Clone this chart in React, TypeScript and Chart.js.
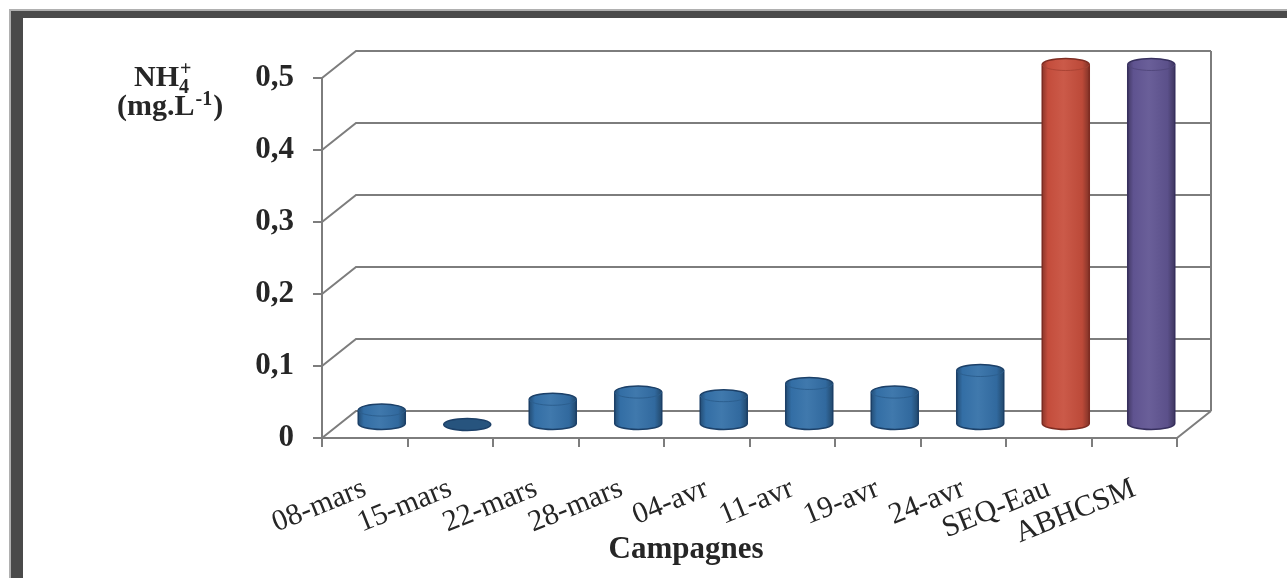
import React, { useEffect, useRef } from "react";
import { Chart, registerables } from "chart.js";

Chart.register(...registerables);

const categories = ["08-mars", "15-mars", "22-mars", "28-mars", "04-avr", "11-avr", "19-avr", "24-avr", "SEQ-Eau", "ABHCSM"];
const values = [0.02, 0.0, 0.035, 0.045, 0.04, 0.057, 0.045, 0.075, 0.5, 0.5];
const yTicks = [0, 0.1, 0.2, 0.3, 0.4, 0.5];
const barColors = ["#3470a8", "#3470a8", "#3470a8", "#3470a8", "#3470a8", "#3470a8", "#3470a8", "#3470a8", "#c84f3d", "#615593"];
const barEdges = ["#1c4068", "#1c4068", "#1c4068", "#1c4068", "#1c4068", "#1c4068", "#1c4068", "#1c4068", "#7e2c22", "#37305e"];
const xTitle = "Campagnes";

const DX = 34;
const DY = -27;
const RY = 6;
const SERIF = "'Liberation Serif', 'Times New Roman', serif";

function shade(hex: string, f: number) {
  const n = parseInt(hex.slice(1), 16);
  let r = (n >> 16) & 255, g = (n >> 8) & 255, b = n & 255;
  if (f >= 0) { r += (255 - r) * f; g += (255 - g) * f; b += (255 - b) * f; }
  else { r *= 1 + f; g *= 1 + f; b *= 1 + f; }
  return `rgb(${Math.round(r)},${Math.round(g)},${Math.round(b)})`;
}

const depthPlugin = {
  id: "depth3d",
  beforeDatasetsDraw(chart: any) {
    const { ctx, chartArea, scales } = chart;
    const ys = scales.y;
    ctx.save();
    ctx.strokeStyle = "#7d7d7d";
    ctx.lineWidth = 2;
    for (const t of ys.ticks) {
      const py = ys.getPixelForValue(t.value);
      ctx.beginPath();
      ctx.moveTo(chartArea.left, py);
      ctx.lineTo(chartArea.left + DX, py + DY);
      ctx.lineTo(chartArea.right + DX, py + DY);
      ctx.stroke();
    }
    const y0 = ys.getPixelForValue(0);
    const yt = ys.getPixelForValue(ys.max);
    ctx.beginPath();
    ctx.moveTo(chartArea.right + DX, yt + DY);
    ctx.lineTo(chartArea.right + DX, y0 + DY);
    ctx.moveTo(chartArea.right, y0);
    ctx.lineTo(chartArea.right + DX, y0 + DY);
    ctx.stroke();
    ctx.restore();
  },
  afterDatasetsDraw(chart: any) {
    const { ctx } = chart;
    const meta = chart.getDatasetMeta(0);
    ctx.save();
    meta.data.forEach((el: any, i: number) => {
      const cx = el.x + DX / 2;
      const rx = el.width / 2;
      const yb = el.base + DY / 2;
      const yt = el.y + DY / 2;
      const base = barColors[i];
      const edge = barEdges[i];
      const g = ctx.createLinearGradient(cx - rx, 0, cx + rx, 0);
      g.addColorStop(0, shade(base, -0.3));
      g.addColorStop(0.12, shade(base, -0.02));
      g.addColorStop(0.45, shade(base, 0.06));
      g.addColorStop(0.85, shade(base, -0.06));
      g.addColorStop(1, shade(base, -0.35));
      if (yb - yt > 0.5) {
        ctx.beginPath();
        ctx.moveTo(cx - rx, yt);
        ctx.lineTo(cx - rx, yb);
        ctx.ellipse(cx, yb, rx, RY, 0, Math.PI, 0, true);
        ctx.lineTo(cx + rx, yt);
        ctx.ellipse(cx, yt, rx, RY, 0, 0, Math.PI, true);
        ctx.closePath();
        ctx.fillStyle = g;
        ctx.fill();
        ctx.strokeStyle = edge;
        ctx.lineWidth = 1.5;
        ctx.stroke();
        ctx.beginPath();
        ctx.ellipse(cx, yt, rx, RY, 0, 0, Math.PI);
        ctx.strokeStyle = shade(base, -0.15);
        ctx.lineWidth = 1;
        ctx.stroke();
      } else {
        ctx.beginPath();
        ctx.ellipse(cx, yb, rx, RY, 0, 0, Math.PI * 2);
        ctx.fillStyle = shade(base, -0.25);
        ctx.fill();
        ctx.strokeStyle = edge;
        ctx.lineWidth = 1.5;
        ctx.stroke();
      }
    });
    ctx.restore();
  },
  afterDraw(chart: any) {
    const { ctx, chartArea } = chart;
    ctx.save();
    ctx.fillStyle = "#262626";
    ctx.textBaseline = "alphabetic";
    ctx.textAlign = "left";
    const big = `bold 30px ${SERIF}`;
    const small = `bold 20px ${SERIF}`;
    let x = 134;
    ctx.font = big;
    ctx.fillText("NH", x, 86);
    x += ctx.measureText("NH").width;
    ctx.font = small;
    ctx.fillText("4", x, 93);
    ctx.fillText("+", x + 1, 75);
    x = 117;
    ctx.font = big;
    ctx.fillText("(mg.L", x, 115);
    x += ctx.measureText("(mg.L").width;
    ctx.font = small;
    ctx.fillText("-1", x + 1, 105);
    x += ctx.measureText("-1").width + 2;
    ctx.font = big;
    ctx.fillText(")", x, 115);
    ctx.font = `bold 31px ${SERIF}`;
    ctx.textAlign = "center";
    ctx.fillText(xTitle, chartArea.left + 364, 558);
    ctx.restore();
  },
};

export default function App() {
  const ref = useRef<HTMLCanvasElement>(null);
  useEffect(() => {
    if (!ref.current) return;
    const chart = new Chart(ref.current, {
      type: "bar",
      data: {
        labels: categories,
        datasets: [
          {
            data: values,
            backgroundColor: "rgba(0,0,0,0)",
            borderWidth: 0,
            barPercentage: 0.55,
            categoryPercentage: 1,
          },
        ],
      },
      options: {
        animation: false,
        responsive: false,
        maintainAspectRatio: false,
        layout: { padding: { left: 0, right: 110, top: 78, bottom: 0 } },
        plugins: { legend: { display: false }, tooltip: { enabled: false }, title: { display: false } },
        scales: {
          x: {
            afterFit: (s: any) => { s.height = 140; },
            grid: { drawOnChartArea: false, drawTicks: true, tickLength: 9, color: "#7d7d7d", lineWidth: 2, offset: true },
            border: { display: true, color: "#7d7d7d", width: 2 },
            ticks: {
              autoSkip: false,
              maxRotation: 22,
              minRotation: 22,
              padding: 24,
              color: "#262626",
              font: { family: SERIF, size: 30 },
            },
          },
          y: {
            min: 0,
            max: 0.5,
            afterFit: (s: any) => { s.width = 322; },
            afterBuildTicks: (s: any) => { s.ticks = yTicks.map((v) => ({ value: v })); },
            grid: { drawOnChartArea: false, drawTicks: true, tickLength: 9, color: "#7d7d7d", lineWidth: 2 },
            border: { display: true, color: "#7d7d7d", width: 2 },
            ticks: {
              padding: 19,
              color: "#262626",
              font: { family: SERIF, size: 31, weight: "bold" },
              callback: (v: any) => (Number(v) === 0 ? "0" : Number(v).toFixed(1).replace(".", ",")),
            },
          },
        },
      },
      plugins: [depthPlugin],
    });
    return () => chart.destroy();
  }, []);
  return (
    <div style={{ position: "fixed", left: 0, top: 0, width: 1287, height: 578, overflow: "hidden", background: "#fff" }}>
      <div
        style={{
          position: "absolute",
          left: 11,
          top: 11,
          width: 1300,
          height: 580,
          boxSizing: "border-box",
          borderStyle: "solid",
          borderColor: "#4a4a4a",
          borderWidth: "7px 8px 8px 12px",
          boxShadow: "0 0 0 2px #b0b0b0",
        }}
      />
      <canvas ref={ref} width={1287} height={578} style={{ position: "absolute", left: 0, top: 0, width: 1287, height: 578 }} />
    </div>
  );
}
